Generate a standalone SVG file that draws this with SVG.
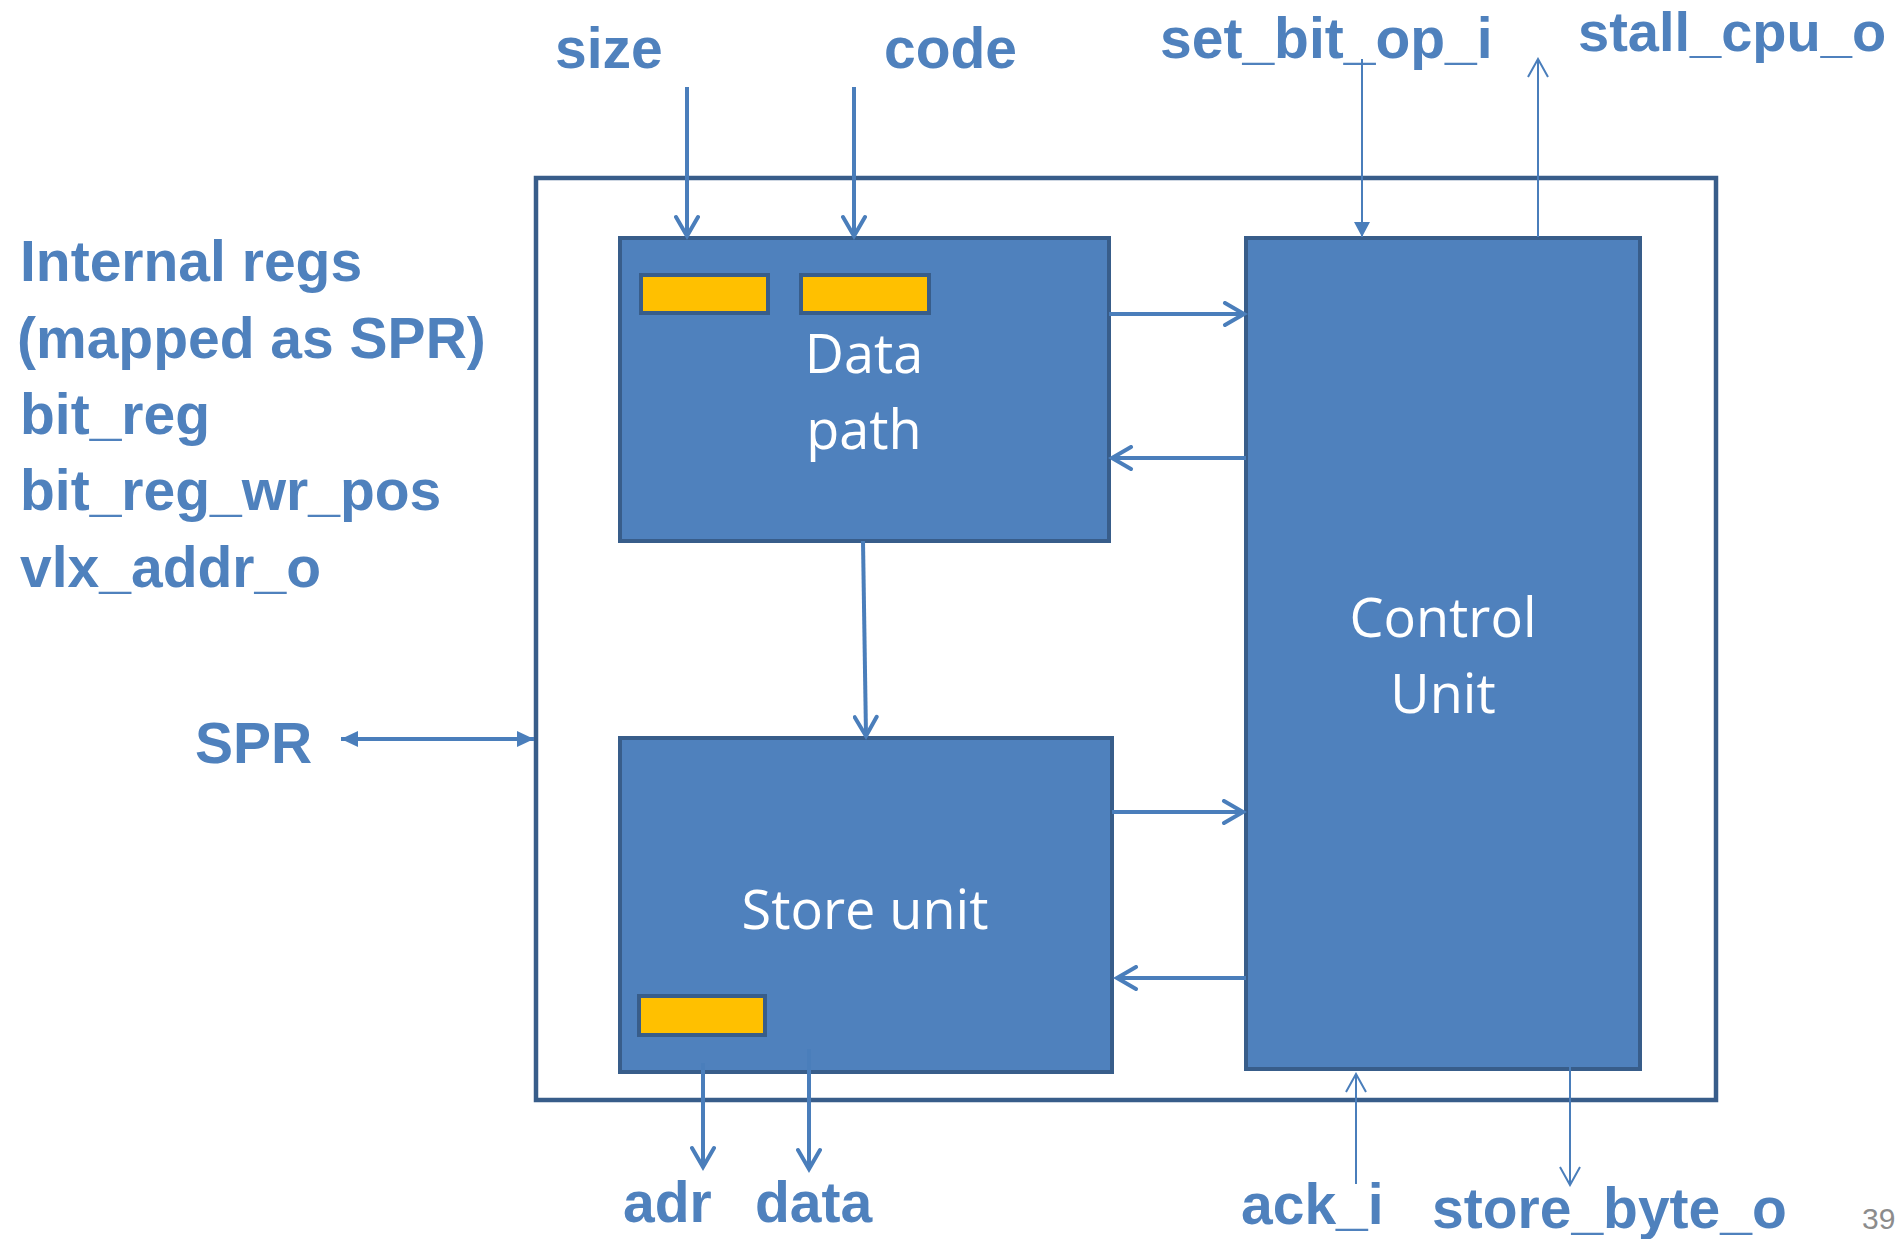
<svg xmlns="http://www.w3.org/2000/svg" width="1901" height="1239" viewBox="0 0 1901 1239">
<style>
.lbl{font-family:"Liberation Sans",Arial,sans-serif;font-weight:bold;font-size:57px;fill:#4F81BD}
.box{fill:#4F81BD;stroke:#385D8A;stroke-width:4}
.reg{fill:#FFC000;stroke:#385D8A;stroke-width:4}
.txt{font-family:"Open Sans","Noto Sans",sans-serif;font-size:54px;fill:#FFFFFF;text-anchor:middle}
.thick{stroke:#4A7EBB;stroke-width:4;fill:none}
.thin{stroke:#4A7EBB;stroke-width:2;fill:none}
</style>
<defs>
<marker id="chev" markerUnits="userSpaceOnUse" viewBox="0 0 26 26" refX="22" refY="13" markerWidth="26" markerHeight="26" orient="auto">
<path d="M3,2 L22,13 L3,24" fill="none" stroke="#4A7EBB" stroke-width="4" stroke-linecap="round"/>
</marker>
<marker id="tri" markerUnits="userSpaceOnUse" viewBox="0 0 18 18" refX="17" refY="9" markerWidth="18" markerHeight="18" orient="auto-start-reverse">
<path d="M0,1 L17,9 L0,17 Z" fill="#4A7EBB"/>
</marker>
<marker id="triThin" markerUnits="userSpaceOnUse" viewBox="0 0 16 18" refX="15" refY="9" markerWidth="16" markerHeight="18" orient="auto">
<path d="M0,1 L15,9 L0,17 Z" fill="#4A7EBB"/>
</marker>
<marker id="chevThin" markerUnits="userSpaceOnUse" viewBox="0 0 22 24" refX="20" refY="12" markerWidth="22" markerHeight="24" orient="auto">
<path d="M2,2 L20,12 L2,22" fill="none" stroke="#4A7EBB" stroke-width="2"/>
</marker>
</defs>
<rect width="1901" height="1239" fill="#FFFFFF"/>

<g id="outer">
<rect x="536" y="178" width="1180" height="922" fill="none" stroke="#385D8A" stroke-width="4.5"/>
</g>

<g id="datapath">
<rect class="box" x="620" y="238" width="489" height="303"/>
<rect class="reg" x="641" y="275" width="127" height="38"/>
<rect class="reg" x="801" y="275" width="128" height="38"/>
<text class="txt" x="864" y="373">Data</text>
<text class="txt" x="864" y="449">path</text>
</g>

<g id="storeunit">
<rect class="box" x="620" y="738" width="492" height="334"/>
<rect class="reg" x="639" y="996" width="126" height="39"/>
<text class="txt" x="865" y="929">Store unit</text>
</g>

<g id="controlunit">
<rect class="box" x="1246" y="238" width="394" height="831"/>
<text class="txt" x="1443" y="637">Control</text>
<text class="txt" x="1443" y="713">Unit</text>
</g>

<g id="labels">
<text class="lbl" x="20" y="281">Internal regs</text>
<text class="lbl" x="17" y="358">(mapped as SPR)</text>
<text class="lbl" x="20" y="434">bit_reg</text>
<text class="lbl" x="20" y="510">bit_reg_wr_pos</text>
<text class="lbl" x="20" y="587">vlx_addr_o</text>
<text class="lbl" x="195" y="763">SPR</text>
<text class="lbl" x="555" y="68">size</text>
<text class="lbl" x="884" y="68">code</text>
<text class="lbl" x="1160" y="58">set_bit_op_i</text>
<text class="lbl" x="1578" y="51" style="font-size:56px">stall_cpu_o</text>
<text class="lbl" x="623" y="1222">adr</text>
<text class="lbl" x="755" y="1222">data</text>
<text class="lbl" x="1241" y="1224">ack_i</text>
<text class="lbl" x="1432" y="1228">store_byte_o</text>
<text x="1862" y="1229" font-family="'Liberation Sans',Arial,sans-serif" font-size="30" fill="#8C8C8C">39</text>
</g>

<g id="connectors">
<line class="thick" x1="687" y1="87" x2="687" y2="236" marker-end="url(#chev)"/>
<line class="thick" x1="854" y1="87" x2="854" y2="236" marker-end="url(#chev)"/>
<line class="thin" x1="1362" y1="59" x2="1362" y2="237" marker-end="url(#triThin)"/>
<line class="thin" x1="1538" y1="237" x2="1538" y2="59" marker-end="url(#chevThin)"/>
<line class="thick" x1="1109" y1="314" x2="1244" y2="314" marker-end="url(#chev)"/>
<line class="thick" x1="1246" y1="458" x2="1112" y2="458" marker-end="url(#chev)"/>
<line class="thick" x1="863" y1="541" x2="866" y2="736" marker-end="url(#chev)"/>
<line class="thick" x1="1112" y1="812" x2="1243" y2="812" marker-end="url(#chev)"/>
<line class="thick" x1="1246" y1="978" x2="1117" y2="978" marker-end="url(#chev)"/>
<line class="thick" x1="341" y1="739" x2="534" y2="739" marker-start="url(#tri)" marker-end="url(#tri)"/>
<line class="thick" x1="703" y1="1063" x2="703" y2="1167" marker-end="url(#chev)"/>
<line class="thick" x1="809" y1="1049" x2="809" y2="1169" marker-end="url(#chev)"/>
<line class="thin" x1="1356" y1="1184" x2="1356" y2="1074" marker-end="url(#chevThin)"/>
<line class="thin" x1="1570" y1="1067" x2="1570" y2="1185" marker-end="url(#chevThin)"/>
</g>
</svg>
